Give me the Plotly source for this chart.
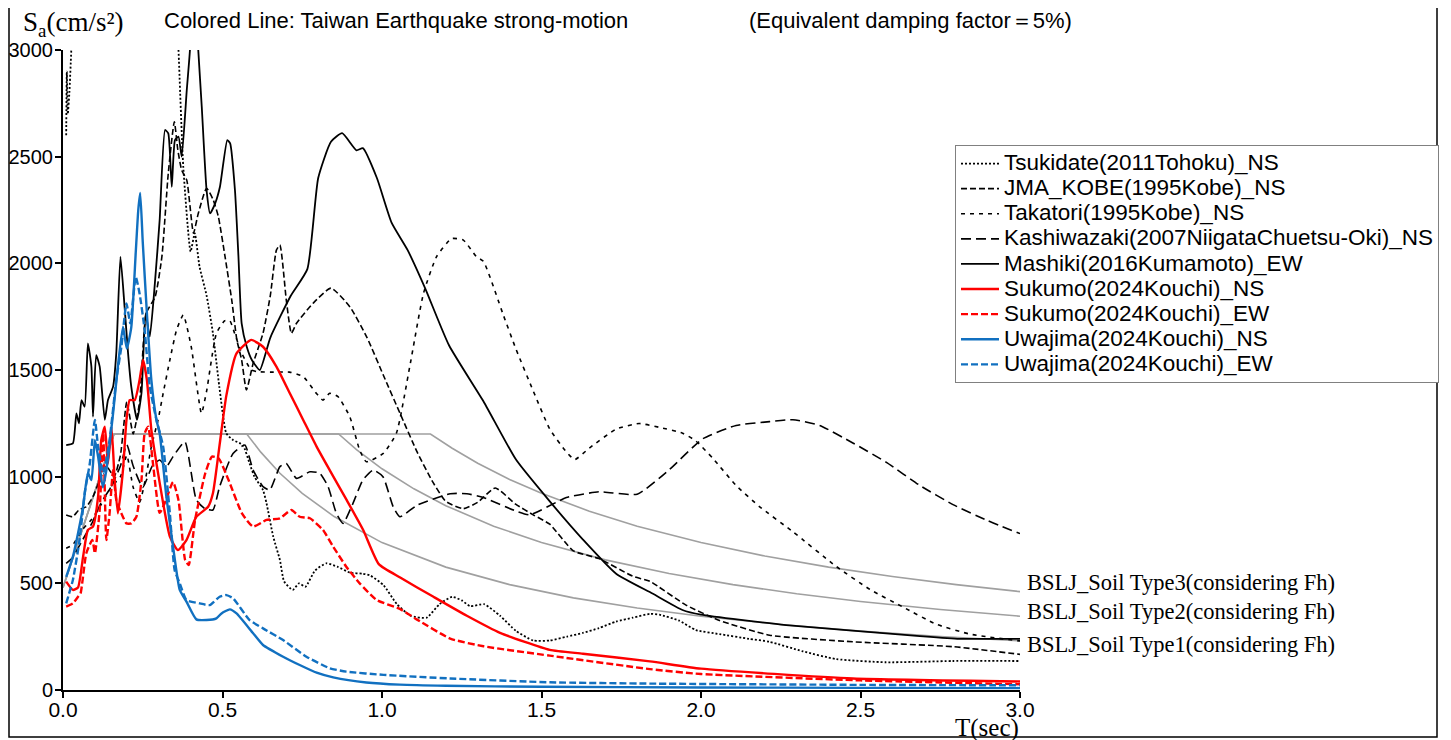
import plotly.graph_objects as go

# ---------------- data ----------------
tsukidate_T = [0.01, 0.012, 0.015, 0.02, 0.026, 0.035, 0.1, 0.2, 0.3, 0.345, 0.362, 0.377, 0.40, 0.413, 0.428,
               0.45, 0.47, 0.49, 0.512, 0.533, 0.564, 0.585, 0.60, 0.627, 0.638, 0.659, 0.68, 0.693, 0.72, 0.74,
               0.76, 0.79, 0.826, 0.86, 0.9, 0.94, 0.964, 1.005, 1.047, 1.09, 1.14, 1.18, 1.22, 1.25, 1.276,
               1.32, 1.37, 1.42, 1.474, 1.526, 1.58, 1.63, 1.68, 1.734, 1.786, 1.84, 1.87, 1.93, 1.984, 2.058,
               2.15, 2.215, 2.32, 2.424, 2.58, 2.79, 3.0]
tsukidate_Sa = [2600, 2900, 2700, 2800, 3000, 3400, 4500, 5000, 4500, 3500, 3000, 2453, 2055, 2141, 1984,
                1850, 1672, 1422, 1203, 1172, 1148, 1062, 1000, 937, 875, 719, 609, 509, 469, 500,
                484, 560, 594, 578, 550, 545, 536, 491, 402, 348, 339, 402, 437, 420, 393,
                402, 348, 277, 232, 232, 250, 268, 290, 321, 339, 357, 353, 326, 281, 262,
                240, 226, 181, 145, 130, 136, 136]

jma_T = [0.01, 0.03, 0.05, 0.073, 0.094, 0.115, 0.136, 0.16, 0.18, 0.2, 0.22, 0.24, 0.261, 0.289, 0.31,
         0.33, 0.349, 0.36, 0.372, 0.388, 0.409, 0.424, 0.45, 0.471, 0.487, 0.508, 0.529, 0.545, 0.56,
         0.575, 0.596, 0.627, 0.65, 0.669, 0.68, 0.70, 0.716, 0.732, 0.784, 0.84, 0.9, 0.953, 1.005,
         1.057, 1.11, 1.16, 1.2, 1.255, 1.3, 1.355, 1.42, 1.474, 1.526, 1.6, 1.68, 1.785, 1.84, 1.953,
         2.058, 2.215, 2.476, 2.79, 3.0]
jma_Sa = [820, 812, 844, 859, 906, 984, 1050, 1000, 1100, 1350, 1200, 1350, 1766, 1844, 2031,
          2422, 2664, 2531, 2437, 2390, 2141, 2234, 2352, 2297, 2219, 2031, 1828, 1641, 1547,
          1406, 1531, 1672, 1850, 2062, 2086, 1828, 1672, 1719, 1813, 1884, 1795, 1652, 1473,
          1295, 1116, 973, 884, 850, 880, 947, 870, 821, 777, 652, 616, 534, 509, 398,
          326, 257, 226, 203, 167]

takatori_T = [0.01, 0.03, 0.06, 0.09, 0.12, 0.15, 0.18, 0.2, 0.22, 0.24, 0.26, 0.277, 0.298, 0.314, 0.335,
              0.356, 0.377, 0.402, 0.434, 0.45, 0.481, 0.507, 0.523, 0.538, 0.56, 0.59, 0.611, 0.65, 0.71,
              0.753, 0.794, 0.815, 0.836, 0.862, 0.899, 0.93, 0.951, 1.004, 1.045, 1.087, 1.13, 1.171,
              1.218, 1.255, 1.296, 1.318, 1.38, 1.42, 1.474, 1.526, 1.578, 1.604, 1.65, 1.734, 1.806,
              1.87, 1.942, 1.984, 2.037, 2.11, 2.183, 2.288, 2.424, 2.53, 2.633, 2.738, 2.843, 3.0]
takatori_Sa = [664, 680, 750, 800, 870, 950, 1000, 1100, 950, 880, 1000, 1141, 1266, 1391, 1547,
               1688, 1758, 1609, 1297, 1400, 1672, 1731, 1731, 1672, 1580, 1500, 1492, 1490, 1490,
               1469, 1391, 1359, 1391, 1375, 1281, 1125, 1070, 1109, 1203, 1516, 1859, 2031,
               2116, 2109, 2031, 2009, 1759, 1598, 1402, 1223, 1116, 1080, 1134, 1223, 1249,
               1231, 1204, 1167, 1086, 959, 860, 742, 579, 471, 389, 308, 262, 230]

kashi_T = [0.01, 0.03, 0.06, 0.09, 0.12, 0.15, 0.18, 0.2, 0.22, 0.25, 0.28, 0.303, 0.324, 0.345, 0.382,
           0.418, 0.445, 0.47, 0.491, 0.533, 0.57, 0.596, 0.627, 0.648, 0.68, 0.70, 0.732, 0.774, 0.805,
           0.831, 0.857, 0.878, 0.909, 0.94, 0.972, 1.003, 1.035, 1.056, 1.11, 1.214, 1.266, 1.318,
           1.42, 1.463, 1.578, 1.68, 1.8, 1.9, 2.005, 2.11, 2.215, 2.288, 2.372, 2.476, 2.58, 2.686,
           2.79, 2.895, 3.0]
kashi_Sa = [594, 620, 700, 780, 880, 950, 1050, 1150, 1050, 950, 1050, 1078, 1047, 1094, 1164,
            891, 850, 844, 953, 1109, 1148, 1031, 953, 937, 1047, 1062, 992, 1023, 1016,
            953, 828, 781, 875, 984, 1031, 1000, 859, 812, 866, 920, 920, 902,
            839, 821, 902, 929, 918, 1032, 1177, 1240, 1258, 1267, 1240, 1158, 1068, 959,
            869, 796, 733]

mashiki_T = [0.01, 0.031, 0.042, 0.05, 0.058, 0.068, 0.078, 0.089, 0.094, 0.104, 0.115, 0.131, 0.141, 0.157,
             0.167, 0.18, 0.193, 0.204, 0.214, 0.232, 0.246, 0.259, 0.272, 0.288, 0.303, 0.32, 0.33, 0.341,
             0.351, 0.362, 0.372, 0.388, 0.398, 0.41, 0.424, 0.435, 0.45, 0.461, 0.477, 0.492, 0.515,
             0.524, 0.539, 0.55, 0.56, 0.576, 0.592, 0.617, 0.65, 0.714, 0.766, 0.80, 0.84, 0.875, 0.92,
             0.94, 0.984, 1.03, 1.08, 1.135, 1.21, 1.32, 1.42, 1.526, 1.63, 1.734, 1.848, 1.942, 2.0,
             2.267, 2.686, 2.81, 3.0]
mashiki_Sa = [1148, 1156, 1297, 1250, 1359, 1328, 1625, 1516, 1281, 1570, 1516, 1266, 1359, 1422,
              1578, 2031, 1797, 1578, 1422, 1266, 1391, 1766, 1656, 1906, 2203, 2625, 2609, 2359,
              2578, 2594, 2500, 2812, 3000, 3400, 3000, 2734, 2344, 2234, 2281, 2359, 2578,
              2562, 2344, 2031, 1719, 1609, 1547, 1500, 1652, 1848, 1973, 2400, 2570, 2610, 2530,
              2540, 2400, 2191, 2063, 1884, 1616, 1348, 1080, 884, 705, 545, 452, 375, 353,
              304, 253, 240, 240]

sukumo_ns_T = [0.01, 0.031, 0.047, 0.063, 0.078, 0.094, 0.11, 0.12, 0.131, 0.141, 0.152, 0.162, 0.172,
               0.188, 0.199, 0.209, 0.225, 0.24, 0.251, 0.263, 0.277, 0.293, 0.314, 0.335, 0.36, 0.387,
               0.418, 0.455, 0.47, 0.491, 0.512, 0.544, 0.59, 0.627, 0.669, 0.711, 0.753, 0.795, 0.836,
               0.889, 0.941, 0.99, 1.057, 1.16, 1.266, 1.37, 1.526, 1.63, 1.84, 2.0, 2.476, 3.0]
sukumo_ns_Sa = [508, 469, 480, 625, 750, 766, 906, 1172, 1234, 1062, 1234, 984, 828,
                1031, 1266, 1359, 1359, 1453, 1547, 1453, 1219, 1062, 875, 719, 656, 703,
                812, 859, 922, 1150, 1380, 1578, 1641, 1609, 1516, 1391, 1266, 1141, 1031,
                891, 750, 590, 527, 438, 348, 268, 188, 170, 134, 100, 54, 40]

sukumo_ew_T = [0.01, 0.031, 0.047, 0.055, 0.073, 0.092, 0.1, 0.115, 0.126, 0.136, 0.146, 0.157, 0.167,
               0.183, 0.199, 0.214, 0.23, 0.246, 0.256, 0.267, 0.282, 0.303, 0.32, 0.345, 0.362, 0.383,
               0.394, 0.414, 0.446, 0.467, 0.488, 0.519, 0.561, 0.596, 0.638, 0.68, 0.716, 0.742, 0.774,
               0.815, 0.847, 0.888, 0.93, 0.983, 1.056, 1.11, 1.214, 1.318, 1.526, 1.84, 2.0, 2.5, 3.0]
sukumo_ew_Sa = [391, 406, 437, 453, 641, 703, 641, 844, 1203, 703, 828, 1031, 891,
                828, 781, 781, 812, 984, 1203, 1234, 1062, 830, 880, 975, 890, 609,
                586, 797, 1016, 1094, 1086, 984, 828, 766, 797, 805, 844, 812, 805,
                750, 672, 578, 500, 422, 380, 330, 241, 205, 161, 98, 75, 45, 27]

uwajima_ns_T = [0.01, 0.031, 0.047, 0.063, 0.078, 0.089, 0.1, 0.11, 0.125, 0.136, 0.157, 0.172, 0.188,
                0.2, 0.214, 0.228, 0.236, 0.242, 0.25, 0.263, 0.277, 0.293, 0.303, 0.324, 0.345, 0.366,
                0.387, 0.418, 0.45, 0.481, 0.497, 0.523, 0.544, 0.596, 0.627, 0.69, 0.742, 0.795, 0.847,
                0.951, 1.056, 1.2, 1.5, 2.0, 2.5, 3.0]
uwajima_ns_Sa = [530, 625, 734, 859, 1016, 984, 1172, 1094, 950, 1031, 1297, 1516, 1703,
                 1600, 1700, 2050, 2250, 2330, 2100, 1766, 1453, 1266, 1203, 906, 672, 469,
                 414, 331, 328, 336, 359, 378, 359, 266, 211, 156, 117, 81, 59,
                 35, 25, 20, 15, 12, 10, 9]

uwajima_ew_T = [0.01, 0.031, 0.052, 0.068, 0.084, 0.1, 0.11, 0.126, 0.146, 0.167, 0.183, 0.199, 0.211,
                0.228, 0.24, 0.256, 0.272, 0.293, 0.314, 0.335, 0.35, 0.366, 0.387, 0.428, 0.46, 0.491,
                0.512, 0.533, 0.585, 0.627, 0.69, 0.763, 0.836, 0.888, 1.005, 1.214, 1.526, 1.84, 2.5, 3.0]
uwajima_ew_Sa = [406, 516, 703, 922, 1062, 1266, 1141, 1016, 1172, 1453, 1609, 1812, 1719,
                 1937, 1859, 1687, 1422, 1266, 1141, 828, 562, 500, 422, 406, 398, 437,
                 445, 430, 328, 289, 234, 156, 102, 86, 71, 54, 36, 30, 24, 22]

bslj1_T = [0.0, 0.16, 0.576, 0.62, 0.68, 0.75, 0.85, 1.0, 1.2, 1.4, 1.6, 1.8, 2.0, 2.25, 2.5, 2.75, 3.0]
bslj1_Sa = [480, 1200, 1200, 1115, 1016, 922, 813, 691, 576, 494, 432, 384, 346, 307, 276, 251, 230]
bslj2_T = [0.0, 0.16, 0.864, 0.92, 1.0, 1.1, 1.2, 1.35, 1.5, 1.7, 1.9, 2.1, 2.3, 2.5, 2.75, 3.0]
bslj2_Sa = [480, 1200, 1200, 1127, 1037, 943, 864, 768, 691, 610, 546, 494, 451, 415, 377, 346]
bslj3_T = [0.0, 0.16, 1.152, 1.22, 1.3, 1.4, 1.5, 1.65, 1.8, 2.0, 2.2, 2.4, 2.6, 2.8, 3.0]
bslj3_Sa = [480, 1200, 1200, 1133, 1063, 987, 922, 838, 768, 691, 628, 576, 532, 494, 461]

bslj_labels = ["BSLJ_Soil Type3(considering Fh)", "BSLJ_Soil Type2(considering Fh)",
               "BSLJ_Soil Type1(considering Fh)"]
bslj_label_y = [506, 366, 211]

x_ticks = [0.0, 0.5, 1.0, 1.5, 2.0, 2.5, 3.0]
x_ticktext = ["0.0", "0.5", "1.0", "1.5", "2.0", "2.5", "3.0"]
y_ticks = [0, 500, 1000, 1500, 2000, 2500, 3000]

# ---------------- figure ----------------
SANS = "Liberation Sans, Arial, sans-serif"
SERIF = "Liberation Serif, Times New Roman, serif"
BLUE = "#1170c0"
RED = "#ff0000"
GRAY = "#a0a0a0"

fig = go.Figure()

for T, S in [(bslj1_T, bslj1_Sa), (bslj2_T, bslj2_Sa), (bslj3_T, bslj3_Sa)]:
    fig.add_trace(go.Scatter(x=T, y=S, mode="lines", showlegend=False, hoverinfo="skip",
                             line=dict(color=GRAY, width=1.6)))

series = [
    ("Tsukidate(2011Tohoku)_NS", tsukidate_T, tsukidate_Sa, "black", 1.8, "2px,2px"),
    ("JMA_KOBE(1995Kobe)_NS", jma_T, jma_Sa, "black", 1.6, "6px,3px"),
    ("Takatori(1995Kobe)_NS", takatori_T, takatori_Sa, "black", 1.6, "4px,5px"),
    ("Kashiwazaki(2007NiigataChuetsu-Oki)_NS", kashi_T, kashi_Sa, "black", 1.6, "10px,5px"),
    ("Mashiki(2016Kumamoto)_EW", mashiki_T, mashiki_Sa, "black", 1.8, "solid"),
    ("Sukumo(2024Kouchi)_NS", sukumo_ns_T, sukumo_ns_Sa, RED, 2.4, "solid"),
    ("Sukumo(2024Kouchi)_EW", sukumo_ew_T, sukumo_ew_Sa, RED, 2.4, "7px,3px"),
    ("Uwajima(2024Kouchi)_NS", uwajima_ns_T, uwajima_ns_Sa, BLUE, 2.4, "solid"),
    ("Uwajima(2024Kouchi)_EW", uwajima_ew_T, uwajima_ew_Sa, BLUE, 2.4, "7px,3px"),
]
for name, T, S, col, w, dash in series:
    fig.add_trace(go.Scatter(
        x=T, y=S, mode="lines",
        name='<span style="font-size:22.5px">' + name + '</span>',
        line=dict(color=col, width=w, dash=dash, shape="spline", smoothing=0.5)))

# The page body adds an 8px offset; figure coordinates = page coordinates - 8.
W, H = 1451, 740
OFF = 8
PX0, PX1 = 63, 1020   # page pixels of x = 0 and x = 3.0
PY0, PY1 = 690, 50    # page pixels of y = 0 and y = 3000
L = PX0 - OFF
T_M = PY1 - OFF
R = W - (PX1 - OFF)
B = H - (PY0 - OFF)
PW, PH = PX1 - PX0, PY0 - PY1


def px_x(p):
    return (p - PX0) / PW


def px_y(p):
    return (PY0 - p) / PH


annotations = [
    dict(text="S<sub>a</sub>(cm/s²)", x=px_x(21), y=px_y(24), xref="paper", yref="paper",
         xanchor="left", yanchor="middle", showarrow=False, font=dict(family=SERIF, size=27, color="black")),
    dict(text="Colored Line: Taiwan Earthquake strong-motion", x=px_x(162), y=px_y(20), xref="paper",
         yref="paper", xanchor="left", yanchor="middle", showarrow=False,
         font=dict(family=SANS, size=22, color="black")),
    dict(text="(Equivalent damping factor＝5%)", x=px_x(747), y=px_y(20), xref="paper", yref="paper",
         xanchor="left", yanchor="middle", showarrow=False, font=dict(family=SANS, size=22, color="black")),
    dict(text="T(sec)", x=px_x(1021), y=px_y(728), xref="paper", yref="paper", xanchor="right",
         yanchor="middle", showarrow=False, font=dict(family=SERIF, size=25, color="black")),
]
for lab, yv in zip(bslj_labels, bslj_label_y):
    annotations.append(dict(text=lab, x=px_x(1025), y=yv, xref="paper", yref="y", xanchor="left",
                            yanchor="middle", showarrow=False,
                            font=dict(family=SERIF, size=22.5, color="black")))

fig.update_layout(
    width=W, height=H,
    margin=dict(l=L, r=R, t=T_M, b=B, autoexpand=False),
    plot_bgcolor="white", paper_bgcolor="white",
    font=dict(family=SANS, color="black"),
    annotations=annotations,
    legend=dict(x=px_x(955), y=px_y(145), xanchor="left", yanchor="top", itemwidth=38,
                bordercolor="#808080", borderwidth=1, bgcolor="white",
                font=dict(family=SANS, size=17, color="black"), tracegroupgap=0),
    shapes=[dict(type="rect", xref="paper", yref="paper", x0=px_x(9), x1=px_x(1437),
                 y0=px_y(737), y1=px_y(-5), line=dict(color="black", width=1.5), layer="above")],
    xaxis=dict(range=[0, 3], tickvals=x_ticks, ticktext=x_ticktext, showline=True, linecolor="black",
               linewidth=2, ticks="outside", ticklen=6, tickwidth=1.5, tickcolor="black",
               showgrid=False, zeroline=False, automargin=False, ticklabelstandoff=-6,
               tickfont=dict(family=SANS, size=21, color="black")),
    yaxis=dict(range=[0, 3000], tickvals=y_ticks, showline=True, linecolor="black", linewidth=2,
               ticks="outside", ticklen=6, tickwidth=1.5, tickcolor="black", showgrid=False,
               zeroline=False, automargin=False, ticklabelstandoff=-2,
               tickfont=dict(family=SANS, size=20, color="black")),
)

fig.write_html("out.html")
